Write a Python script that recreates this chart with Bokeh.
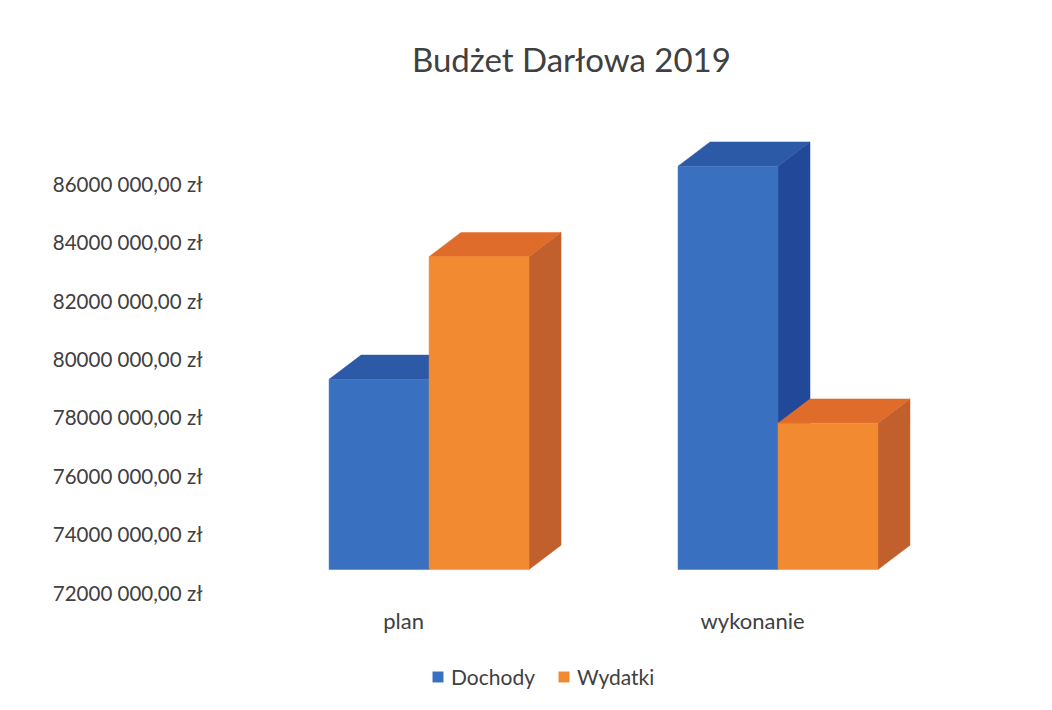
import numpy as np
from bokeh.plotting import figure
from bokeh.models import FixedTicker, Range1d, Legend, LegendItem, ColumnDataSource
from bokeh.core.properties import value
from bokeh.embed import file_html
from bokeh.resources import INLINE

# ---- data ----
categories = ["plan", "wykonanie"]
series_names = ["Dochody", "Wydatki"]
dochody = [79_300_000, 86_600_000]
wydatki = [83_500_000, 77_800_000]
tick_values = [72000000, 74000000, 76000000, 78000000, 80000000, 82000000, 84000000, 86000000]
tick_labels = ["72000 000,00 zł", "74000 000,00 zł", "76000 000,00 zł", "78000 000,00 zł",
               "80000 000,00 zł", "82000 000,00 zł", "84000 000,00 zł", "86000 000,00 zł"]
title_text = "Budżet Darłowa 2019"

# ---- styling / geometry ----
FONT = "Lato"
TXT = "#404040"
BASE = 72_790_000          # floor of the front faces
BAR_W = 0.2865
GROUP_SHIFT = 0.073
DX = 0.0917                # depth offset (x units)
DY = 830_000               # depth offset (y units)
CAT_LABEL_Y = 71_030_000   # vertical position of category labels
TITLE_X, TITLE_Y = 0.481, 90_270_000
colors = {
    "Dochody": ("#3a70c0", "#2d5aa6", "#22489a"),   # front, top, side
    "Wydatki": ("#f28a32", "#df6c2a", "#c1602c"),
}

p = figure(frame_width=715, frame_height=694, output_backend="svg", toolbar_location=None,
           x_axis_location=None,
           x_range=Range1d(-0.539, 1.51), y_range=Range1d(68_507_000, 92_274_000),
           min_border_left=215, min_border_right=100, min_border_top=0,
           min_border_bottom=0)

p.grid.visible = False
p.outline_line_color = None
p.background_fill_color = "white"
p.border_fill_color = "white"

x = np.arange(len(categories), dtype=float)
renderers = {}
for k, (name, vals) in enumerate(zip(series_names, [dochody, wydatki])):
    front, topc, side = colors[name]
    vals = np.array(vals, dtype=float)
    xc = x + GROUP_SHIFT + (k - 0.5) * BAR_W
    x0 = xc - BAR_W / 2
    x1 = xc + BAR_W / 2
    side_xs = [[a1, a1 + DX, a1 + DX, a1] for a1 in x1]
    side_ys = [[BASE, BASE + DY, v + DY, v] for v in vals]
    p.patches(side_xs, side_ys, fill_color=side, line_color=side, line_width=0.5)
    top_xs = [[a0, a1, a1 + DX, a0 + DX] for a0, a1 in zip(x0, x1)]
    top_ys = [[v, v, v + DY, v + DY] for v in vals]
    p.patches(top_xs, top_ys, fill_color=topc, line_color=topc, line_width=0.5)
    src = ColumnDataSource(dict(x=xc, top=vals))
    r = p.vbar(x="x", top="top", bottom=BASE, width=BAR_W, source=src,
               fill_color=front, line_color=front, line_width=0.5)
    renderers[name] = r

# category labels
p.text(x=x, y=[CAT_LABEL_Y] * len(categories), text=categories,
       text_font=value(FONT), text_font_size="22px", text_color=TXT,
       text_align="center", text_baseline="middle")

# title
p.text(x=[TITLE_X], y=[TITLE_Y], text=[title_text],
       text_font=value(FONT), text_font_size="33px", text_color=TXT,
       text_align="center", text_baseline="middle")

p.yaxis.ticker = FixedTicker(ticks=tick_values)
p.yaxis.major_label_overrides = dict(zip(tick_values, tick_labels))
p.yaxis.axis_line_color = None
p.yaxis.major_tick_line_color = None
p.yaxis.minor_tick_line_color = None
p.yaxis.major_label_text_font = FONT
p.yaxis.major_label_text_font_size = "20.5px"
p.yaxis.major_label_text_color = TXT
p.yaxis.major_label_standoff = 7

legend = Legend(items=[LegendItem(label=n, renderers=[renderers[n]]) for n in series_names],
                orientation="horizontal", location=(216, 5),
                label_text_font=FONT, label_text_font_size="21px", label_text_color=TXT,
                glyph_width=13, glyph_height=13, spacing=22, label_standoff=7,
                border_line_color=None, background_fill_alpha=0, margin=0, padding=4)
p.add_layout(legend, "center")

open("out.html", "w").write(file_html(p, INLINE))
